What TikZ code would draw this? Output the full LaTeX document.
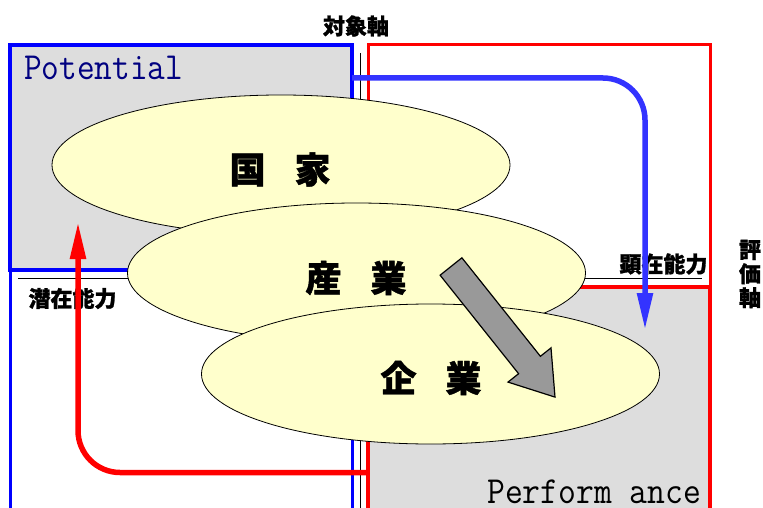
\documentclass[tikz,border=0pt]{standalone}
\usepackage{fontspec}
\newfontfamily\cjk{Noto Sans CJK JP}[BoldFeatures={FakeBold=1.2}]
\usetikzlibrary{shapes.geometric,arrows.meta}
\definecolor{boxgray}{HTML}{DDDDDD}
\definecolor{ellfill}{HTML}{FFFFCC}
\definecolor{arrowblue}{HTML}{3333FF}
\definecolor{navytext}{HTML}{000080}
\definecolor{blockgray}{HTML}{999999}
\begin{document}
\begin{tikzpicture}[x=1pt,y=-1pt,
  box/.style={draw, rectangle, inner sep=0pt, minimum width=342pt},
  bluebox/.style={box, draw=blue, line width=4pt},
  redbox/.style={box, draw=red, line width=3pt},
  ell/.style={ellipse, draw=black, line width=0.8pt, fill=ellfill, minimum width=458pt, minimum height=140pt, inner sep=0pt},
  bigjp/.style={font=\cjk\bfseries\fontsize{36}{40}\selectfont, inner sep=0pt},
  jplabel/.style={font=\cjk\bfseries\fontsize{22}{24}\selectfont, inner sep=0pt},
  mono/.style={font=\ttfamily\fontsize{33}{36}\selectfont, inner sep=0pt},
  thinline/.style={line width=1pt},
  flowarrow/.style={line width=5.5pt, rounded corners=42pt, -{Triangle[length=37pt,width=15pt]}},
]
\useasboundingbox (0,0) rectangle (763,508);
\clip (0,0) rectangle (763,508);
\fill[white] (0,0) rectangle (763,508);

% boxes
\node[bluebox, fill=white, line width=3pt, minimum height=250pt] (potlow) at (181,395) {};
\node[bluebox, fill=boxgray, minimum height=225pt] (potbox) at (181,157.5) {};
\node[redbox, fill=white, minimum height=242pt] (perfup) at (539,166) {};
\node[redbox, fill=boxgray, line width=3.5pt, minimum height=233pt] (perfbox) at (539,403.5) {};

\node[mono, text=navytext, anchor=base west] (pot) at (24,80) {\scalebox{1.04}[1.16]{Potential}};
\node[mono, anchor=base west] (perf) at (487,503) {\scalebox{1.05}[1.16]{Perform ance}};

% axis lines
\coordinate (vtop) at (360,53);
\coordinate (vbot) at (360,520);
\draw[thinline] (vtop) -- (vbot);
\coordinate (hl) at (18,278.5);
\coordinate (hr) at (702,278.5);
\draw[thinline] (hl) -- (hr);

% labels
\node[jplabel] (taisho) at (356,26) {対象軸};
\node[jplabel, align=center] (hyoka) at (750,274) {評\\価\\軸};
\node[jplabel] (senzai) at (72.5,298.5) {潜在能力};
\node[jplabel] (kenzai) at (663.5,264) {顕在能力};

% ellipses
\node[ell] (kokka) at (281,165) {};
\node[bigjp] (kokkat) at (280,169.5) {国\hspace{29pt}家};
\node[ell] (sangyo) at (356.5,273) {};
\node[bigjp] (sangyot) at (356,278) {産\hspace{29pt}業};
\node[ell] (kigyo) at (430.5,374) {};
\node[bigjp] (kigyot) at (431,378) {企\hspace{29pt}業};

% block arrow
\filldraw[fill=blockgray, draw=black, line width=1.2pt, line join=miter]
  (440.1,275.2) -- (461.9,257.8) -- (540.4,356.3) -- (551,347.9) -- (555,397.1) -- (508,382.1) -- (518.6,373.7) -- cycle;

% flow arrows
\coordinate (bs) at (352,78);
\coordinate (bt) at (645,330);
\draw[flowarrow, arrowblue] (bs) -| (bt);
\coordinate (rs) at (368,472.5);
\coordinate (rt) at (78,222);
\draw[flowarrow, red] (rs) -| (rt);
\end{tikzpicture}
\end{document}
